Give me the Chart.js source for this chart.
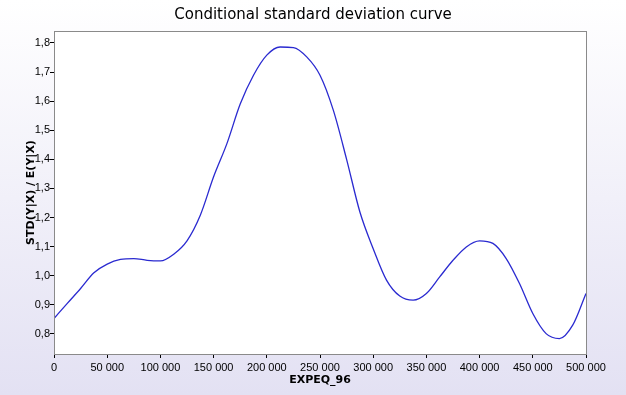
<!DOCTYPE html>
<html>
<head>
<meta charset="utf-8">
<script src="https://cdn.jsdelivr.net/npm/chart.js@4.4.0/dist/chart.umd.min.js"></script>
<style>
  html, body { margin: 0; padding: 0; }
  #wrap { width: 626px; height: 395px; }
</style>
</head>
<body>
<div id="wrap"><canvas id="myChart" width="626" height="395"></canvas></div>
<script>
// X values (EXPEQ_96)
const xValues = [0, 12500, 25000, 37500, 50000, 62500, 75000, 87500, 100000, 112500,
  125000, 137500, 150000, 162500, 175000, 187500, 200000, 212500, 225000, 237500,
  250000, 262500, 275000, 287500, 300000, 312500, 325000, 337500, 350000, 362500,
  375000, 387500, 400000, 412500, 425000, 437500, 450000, 462500, 475000, 487500, 500000];
// STD(Y|X) / E(Y|X)
const stdValues = [0.853, 0.905, 0.956, 1.01, 1.04, 1.056, 1.059, 1.053, 1.051, 1.074,
  1.12, 1.208, 1.34, 1.454, 1.59, 1.689, 1.758, 1.786, 1.784, 1.752,
  1.689, 1.569, 1.40, 1.219, 1.093, 0.985, 0.93, 0.916, 0.939, 0.996,
  1.053, 1.099, 1.12, 1.111, 1.059, 0.973, 0.87, 0.801, 0.784, 0.83, 0.939];
// tick labels
const xTicks = [0, 50000, 100000, 150000, 200000, 250000, 300000, 350000, 400000, 450000, 500000];
const yTicks = [0.8, 0.9, 1.0, 1.1, 1.2, 1.3, 1.4, 1.5, 1.6, 1.7, 1.8];

const canvas = document.getElementById('myChart');
const ctx = canvas.getContext('2d');

// background gradient + white plot with gray frame
const backdrop = {
    id: 'backdrop',
    beforeDraw(chart) {
        const c = chart.ctx;
        const a = chart.chartArea;
        const g = c.createLinearGradient(0, 0, 0, chart.height);
        g.addColorStop(0, '#ffffff');
        g.addColorStop(1, '#e3e1f3');
        c.save();
        c.fillStyle = g;
        c.fillRect(0, 0, chart.width, chart.height);
        c.fillStyle = '#ffffff';
        c.fillRect(a.left, a.top, a.right - a.left, a.bottom - a.top);
        c.restore();
    },
    afterDatasetsDraw(chart) {
        const c = chart.ctx;
        const a = chart.chartArea;
        c.save();
        c.strokeStyle = '#8a8a8a';
        c.lineWidth = 1;
        c.strokeRect(a.left + 0.5, a.top + 0.5, a.right - a.left, a.bottom - a.top);
        c.restore();
    }
};

const data = {
    datasets: [{
        data: xValues.map((x, i) => ({ x: x, y: stdValues[i] })),
        borderColor: '#2a2ad0',
        borderWidth: 1.3,
        pointRadius: 0,
        fill: false,
        cubicInterpolationMode: 'monotone'
    }]
};

const config = {
    type: 'line',
    data: data,
    options: {
        responsive: false,
        animation: false,
        layout: { padding: 0 },
        plugins: {
            legend: { display: false },
            tooltip: { enabled: false },
            title: {
                display: true,
                text: 'Conditional standard deviation curve',
                color: '#000',
                font: { family: 'DejaVu Sans', size: 15, weight: 'normal' },
                padding: { top: 6, bottom: 7 }
            }
        },
        scales: {
            x: {
                type: 'linear',
                min: 0,
                max: 500000,
                afterBuildTicks: (scale) => { scale.ticks = xTicks.map(v => ({ value: v })); },
                afterFit: (scale) => { scale.height = 41; },
                grid: { drawOnChartArea: false, drawTicks: true, tickLength: 4, color: '#000' },
                border: { color: '#8a8a8a' },
                ticks: {
                    color: '#000',
                    padding: 3,
                    maxRotation: 0,
                    font: { family: 'Liberation Sans', size: 11 },
                    callback: (v) => String(v).replace(/\B(?=(\d{3})+(?!\d))/g, ' ')
                },
                title: {
                    display: true,
                    text: 'EXPEQ_96',
                    color: '#000',
                    font: { family: 'DejaVu Sans', size: 11, weight: 'bold' },
                    padding: { top: 0, bottom: 8 }
                }
            },
            y: {
                min: 0.731,
                max: 1.841,
                afterBuildTicks: (scale) => { scale.ticks = yTicks.map(v => ({ value: v })); },
                afterFit: (scale) => { scale.width = 54; },
                grid: { drawOnChartArea: false, drawTicks: true, tickLength: 4, color: '#000' },
                border: { color: '#8a8a8a' },
                ticks: {
                    color: '#000',
                    padding: 0,
                    font: { family: 'Liberation Sans', size: 11 },
                    callback: (v) => v.toFixed(1).replace('.', ',')
                },
                title: {
                    display: true,
                    text: 'STD(Y|X) / E(Y|X)',
                    color: '#000',
                    font: { family: 'DejaVu Sans', size: 11, weight: 'bold' },
                    padding: { top: 25, bottom: 0 }
                }
            },
            // empty strip on the right so the plot ends where the reference does
            yRight: {
                position: 'right',
                min: 0.731,
                max: 1.841,
                afterFit: (scale) => { scale.width = 40; },
                grid: { display: false },
                border: { display: false },
                ticks: { display: false }
            }
        }
    },
    plugins: [backdrop]
};

const myChart = new Chart(ctx, config);
</script>
</body>
</html>
